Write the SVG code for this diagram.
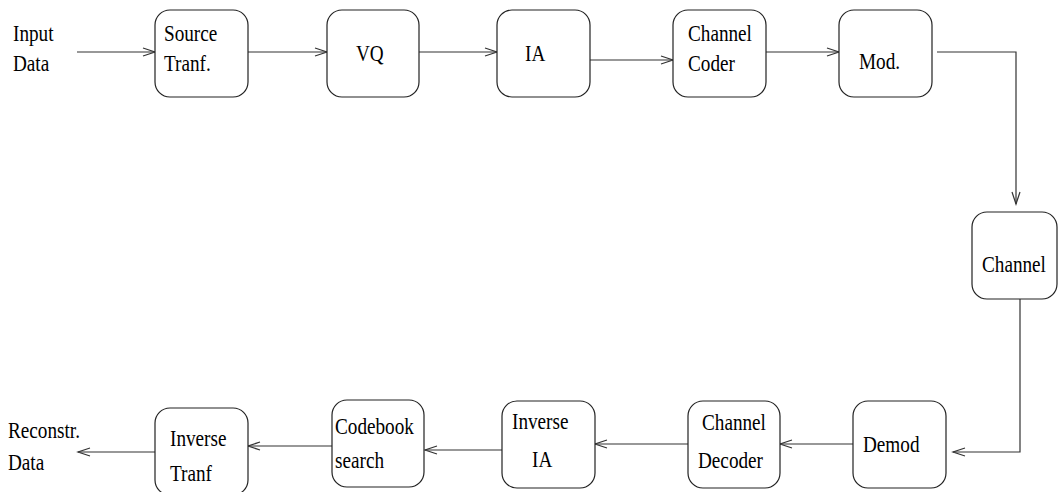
<svg xmlns="http://www.w3.org/2000/svg" width="1058" height="492" viewBox="0 0 1058 492">
<style>
.box{fill:#fff;stroke:#222;stroke-width:1.2}
.c{fill:none;stroke:#333;stroke-width:1.2}
text{font-family:'Liberation Serif',serif;font-size:24px;fill:#000}
</style>
<defs>
<marker id="ah" markerUnits="userSpaceOnUse" markerWidth="16" markerHeight="12" refX="13" refY="5" orient="auto">
<path d="M1,1 L13,5 L1,9" fill="none" stroke="#333" stroke-width="1.2"/>
</marker>
</defs>
<rect width="1058" height="492" fill="#fff"/>
<g id="connectors">
<path class="c" d="M77,52 H155" marker-end="url(#ah)"/>
<path class="c" d="M248,52 H327" marker-end="url(#ah)"/>
<path class="c" d="M419,52 H497" marker-end="url(#ah)"/>
<path class="c" d="M590,60 H673" marker-end="url(#ah)"/>
<path class="c" d="M766,52 H839" marker-end="url(#ah)"/>
<path class="c" d="M937,52 H1016 V204" marker-end="url(#ah)"/>
<path class="c" d="M1020,299 V452 H953" marker-end="url(#ah)"/>
<path class="c" d="M853,444 H780" marker-end="url(#ah)"/>
<path class="c" d="M688,444 H595" marker-end="url(#ah)"/>
<path class="c" d="M502,450 H425" marker-end="url(#ah)"/>
<path class="c" d="M332,446 H248" marker-end="url(#ah)"/>
<path class="c" d="M155,452 H78" marker-end="url(#ah)"/>
</g>
<g id="input-label">
<text transform="matrix(0.8 0 0 1 13 41)">Input</text>
<text transform="matrix(0.8 0 0 1 13 71)">Data</text>
</g>
<g id="source-tranf">
<rect class="box" x="155" y="10" width="93" height="87" rx="15"/>
<text transform="matrix(0.8 0 0 1 164 41)">Source</text>
<text transform="matrix(0.8 0 0 1 164 71)">Tranf.</text>
</g>
<g id="vq">
<rect class="box" x="327" y="10" width="92" height="87" rx="15"/>
<text transform="matrix(0.8 0 0 1 356 61)">VQ</text>
</g>
<g id="ia">
<rect class="box" x="497" y="10" width="93" height="87" rx="15"/>
<text transform="matrix(0.8 0 0 1 525 61)">IA</text>
</g>
<g id="channel-coder">
<rect class="box" x="673" y="10" width="93" height="87" rx="15"/>
<text transform="matrix(0.8 0 0 1 688 41)">Channel</text>
<text transform="matrix(0.8 0 0 1 688 71)">Coder</text>
</g>
<g id="mod">
<rect class="box" x="839" y="10" width="93" height="87" rx="15"/>
<text transform="matrix(0.8 0 0 1 859 69)">Mod.</text>
</g>
<g id="channel">
<rect class="box" x="972" y="212" width="85" height="87" rx="15"/>
<text transform="matrix(0.8 0 0 1 982 272)">Channel</text>
</g>
<g id="demod">
<rect class="box" x="853" y="401" width="93" height="87" rx="15"/>
<text transform="matrix(0.8 0 0 1 863 452)">Demod</text>
</g>
<g id="channel-decoder">
<rect class="box" x="688" y="401" width="92" height="87" rx="15"/>
<text transform="matrix(0.8 0 0 1 702 430)">Channel</text>
<text transform="matrix(0.8 0 0 1 698 468)">Decoder</text>
</g>
<g id="inverse-ia">
<rect class="box" x="502" y="401" width="93" height="87" rx="15"/>
<text transform="matrix(0.8 0 0 1 512 429)">Inverse</text>
<text transform="matrix(0.8 0 0 1 532 467)">IA</text>
</g>
<g id="codebook-search">
<rect class="box" x="332" y="400" width="92" height="87" rx="15"/>
<text transform="matrix(0.8 0 0 1 335 434)">Codebook</text>
<text transform="matrix(0.8 0 0 1 335 468)">search</text>
</g>
<g id="inverse-tranf">
<rect class="box" x="155" y="408" width="93" height="87" rx="15"/>
<text transform="matrix(0.8 0 0 1 170 446)">Inverse</text>
<text transform="matrix(0.8 0 0 1 170 481)">Tranf</text>
</g>
<g id="output-label">
<text transform="matrix(0.8 0 0 1 8 438)">Reconstr.</text>
<text transform="matrix(0.8 0 0 1 8 470)">Data</text>
</g>
</svg>
